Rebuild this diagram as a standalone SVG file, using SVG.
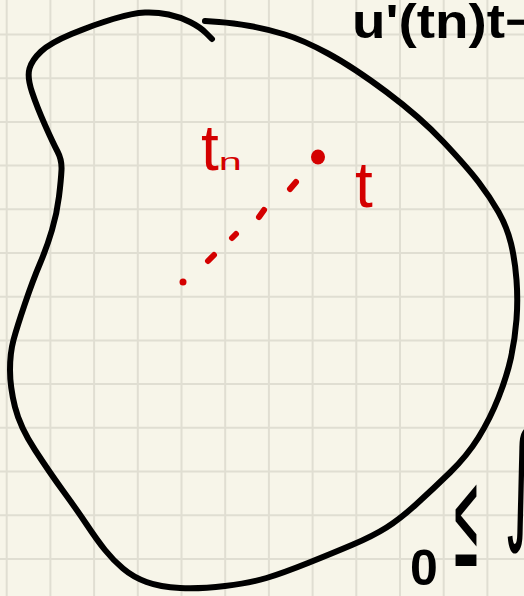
<svg xmlns="http://www.w3.org/2000/svg" width="524" height="596" viewBox="0 0 524 596">
<style>
.grid{stroke:#e0ded2;stroke-width:2;fill:none}
.ink{stroke:#000;stroke-width:6;fill:none;stroke-linecap:round;stroke-linejoin:round}
.red{stroke:#d40000;stroke-width:6;fill:none;stroke-linecap:round}
.rt{fill:#d40000;font-family:"Liberation Sans",Arial,sans-serif}
.bt{fill:#000;font-family:"Liberation Sans",Arial,sans-serif;font-weight:bold}
.mt{fill:#000;font-family:"DejaVu Sans",sans-serif}
</style>
<rect width="524" height="596" fill="#f7f5e9"/>
<g id="grid">
<path class="grid" d="M6.7,0V596M50.4,0V596M94.1,0V596M137.8,0V596M181.5,0V596M225.2,0V596M268.9,0V596M312.6,0V596M356.3,0V596M400,0V596M443.7,0V596M487.4,0V596M0,34.5H524M0,78.2H524M0,121.9H524M0,165.6H524M0,209.3H524M0,253H524M0,296.7H524M0,340.4H524M0,384.1H524M0,427.8H524M0,471.5H524M0,515.2H524M0,558.9H524"/>
</g>
<g id="region">
<path class="ink" d="M205,21 L219,22 Q233,23 250,26 Q267,29 285,34.5 Q303,40 328,53.5 Q353,67 386.5,92 Q420,117 443.5,142 Q467,167 478.5,182 Q490,197 498.5,212 Q507,227 511,243.5 Q515,260 516.5,280 Q518,300 516.5,319.5 Q515,339 511,357.5 Q507,376 498.5,397.5 Q490,419 478.5,437.5 Q467,456 450,472.5 Q433,489 416.5,504 Q400,519 386.5,527.5 Q373,536 353,544.5 Q333,553 308,563 Q283,573 266.5,578 Q250,583 225,586 Q200,589 180,588 Q160,587 146.5,582 Q133,577 123,568.5 Q113,560 105,550 Q97,540 87,525 Q77,510 63.5,491.5 Q50,473 35,450 Q20,427 15,407 Q10,387 10,370 Q10,353 13.5,340 Q17,327 25,303.5 Q33,280 40,263.5 Q47,247 52,230 Q57,213 59,196.5 Q61,180 61.5,170 Q62,160 57.5,151.5 Q53,143 45,125 Q37,107 32,92 Q27,77 29.5,68.5 Q32,60 41,51.5 Q50,43 71.5,34 Q93,25 113,19 Q133,13 145,12.5 Q157,12 168.5,14.5 Q180,17 190,22 Q200,27 206,33 L212,39"/>
</g>
<g id="sequence">
<ellipse cx="318" cy="157" rx="7" ry="7.5" fill="#d40000"/>
<path class="red" d="M290,189L296,182M259,217L264,210M232,238L236,234M208,261L214,255"/>
<circle cx="183" cy="282" r="3.5" fill="#d40000"/>
</g>
<g id="label-tn">
<text class="rt" x="201" y="170" font-size="64">t<tspan font-size="24" textLength="23" lengthAdjust="spacingAndGlyphs">n</tspan></text>
</g>
<g id="label-t">
<text class="rt" x="355" y="207" font-size="64">t</text>
</g>
<g id="formula-top">
<text class="bt" x="352" y="38" font-size="48" textLength="185" lengthAdjust="spacingAndGlyphs">u'(tn)t−</text>
</g>
<g id="formula-bottom">
<text class="bt" x="410" y="585" font-size="50">0</text>
<text class="mt" x="452" y="566" font-size="140" textLength="28" lengthAdjust="spacingAndGlyphs">≤</text>
<text class="mt" x="504" y="526" font-size="130" textLength="34" lengthAdjust="spacingAndGlyphs">∫</text>
</g>
</svg>
